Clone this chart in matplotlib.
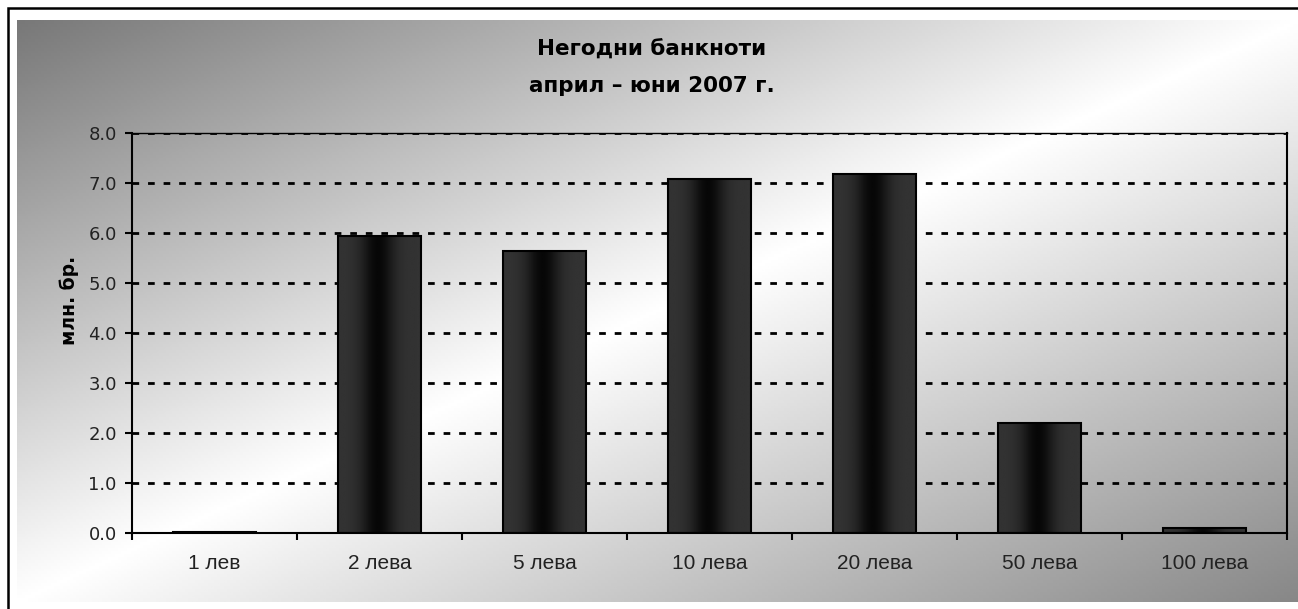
import numpy as np
import matplotlib
matplotlib.use("Agg")
import matplotlib.pyplot as plt

# data
categories = ["1 лев", "2 лева", "5 лева", "10 лева", "20 лева", "50 лева", "100 лева"]
values = [0.03, 5.95, 5.64, 7.08, 7.19, 2.2, 0.1]
y_ticks = [0, 1, 2, 3, 4, 5, 6, 7, 8]
title_lines = ["Негодни банкноти", "април – юни 2007 г."]
y_label = "млн. бр."

W, H = 1298, 609
fig = plt.figure(figsize=(W / 100, H / 100), dpi=100)

# ------------------------------------------------
# Background: diagonal grey-white-grey gradient + frame (pixel coords)
# ------------------------------------------------
bg = fig.add_axes([0, 0, 1, 1], zorder=-10)
bg.set_xlim(0, W)
bg.set_ylim(H, 0)
bg.axis("off")

xx, yy = np.meshgrid(np.linspace(0, 1, 400), np.linspace(0, 1, 200))
u = xx + yy
shade = np.where(u <= 1, 0.47 + 0.53 * u, 1.0 - 0.47 * (u - 1))
bg.imshow(shade, cmap="gray", vmin=0, vmax=1, extent=(17, W, 602, 20),
          aspect="auto", interpolation="bilinear")
bg.plot([8, 8, W], [H, 8, 8], color="black", lw=1.8, solid_joinstyle="miter")

# ------------------------------------------------
# Plot area
# ------------------------------------------------
ax = fig.add_axes([132 / W, 1 - 533 / H, (1287 - 132) / W, (533 - 133) / H])
ax.set_facecolor("none")

x = np.arange(len(categories))
bars = ax.bar(x, values, width=0.5, color="none", edgecolor="black",
              linewidth=1.5, zorder=3)

# horizontal shading inside each bar: dark grey edges, near black centre
t = np.linspace(0, 1, 200)
profile = 0.2 - 0.17 * np.exp(-((t - 0.48) / 0.2) ** 2)
grad = profile[np.newaxis, :]
for b in bars:
    im = ax.imshow(grad, cmap="gray", vmin=0, vmax=1,
                   extent=(b.get_x(), b.get_x() + b.get_width(), 0, b.get_height()),
                   aspect="auto", zorder=2.5, interpolation="bilinear")
    im.set_clip_path(b)

ax.set_xlim(-0.5, len(categories) - 0.5)
ax.set_ylim(0, 8)
ax.set_axisbelow(True)
ax.yaxis.grid(True, color="black", linestyle=(0, (2.4, 3.2)), linewidth=2.0)

for side in ["left", "bottom", "right"]:
    ax.spines[side].set_linewidth(1.5)
ax.spines["top"].set_linewidth(1.0)

ax.set_yticks(y_ticks)
ax.set_yticklabels([f"{v:.1f}" for v in y_ticks])
ax.set_xticks(x)
ax.set_xticklabels(categories, fontfamily="Liberation Sans", fontsize=15)
ax.set_xticks(np.arange(-0.5, len(categories)), minor=True)
ax.tick_params(axis="x", which="major", length=0, pad=15, colors="#222222")
ax.tick_params(axis="x", which="minor", length=5, width=1.5, direction="out")
ax.tick_params(axis="y", length=5, width=1.5, direction="out", pad=6,
               labelsize=13, labelcolor="#222222")

fig.text(69.5 / W, 1 - 300 / H, y_label, rotation=90, ha="center", va="center",
         fontsize=13.5, fontweight="bold")

fig.text(652 / W, 1 - 56 / H, title_lines[0], ha="center", va="baseline",
         fontsize=15.5, fontweight="bold")
fig.text(652 / W, 1 - 92 / H, title_lines[1], ha="center", va="baseline",
         fontsize=15.5, fontweight="bold")

fig.savefig("out.png", dpi=100)
